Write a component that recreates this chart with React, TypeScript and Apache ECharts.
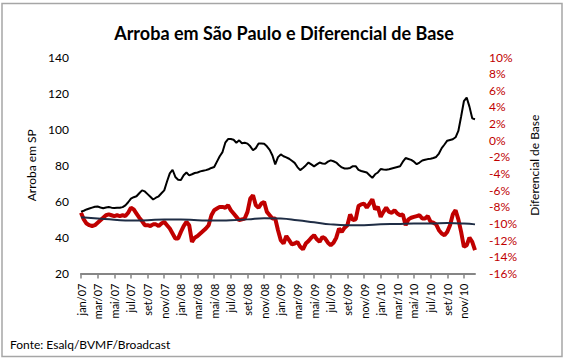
import React, { useEffect, useRef } from "react";
import * as echarts from "echarts";

const TITLE = "Arroba em São Paulo e Diferencial de Base";
const SOURCE = "Fonte: Esalq/BVMF/Broadcast";
const LEFT_NAME = "Arroba em SP";
const RIGHT_NAME = "Diferencial de Base";

const MONTHS = ["jan", "fev", "mar", "abr", "mai", "jun", "jul", "ago", "set", "out", "nov", "dez"];
const YEARS = ["07", "08", "09", "10"];
const DAYS = ["01", "11", "21"];

// Arroba em SP (R$), three readings per month
const ARROBA_2007 = [
  54.3, 54.8, 55.5, 56, 56.5, 57, 57.1, 56.6, 56.2, 56.6, 56.9, 56.5,
  56.3, 56.5, 56.4, 56.8, 57.8, 59.5, 61.5, 62.3, 62.8, 64.5, 66.1, 65.5,
  64, 62.5, 61, 62, 62.8, 64.5, 66.1, 71, 75.5, 77.5, 73.5, 72,
];
const ARROBA_2008 = [
  71.8, 74.5, 76, 74.4, 75, 75.7, 76, 76.6, 77, 77.3, 77.8, 78.5,
  79, 82, 85, 87.3, 92.5, 94.5, 94.5, 94.1, 92.5, 93.8, 92.2, 92.5,
  92, 90.5, 88.3, 89.5, 92, 92, 91.9, 90.5, 88.5, 85.4, 80.5, 84.5,
];
const ARROBA_2009 = [
  86, 85, 84.4, 83.6, 82.5, 81.3, 79, 77.3, 78.5, 79.9, 81.5, 80.5,
  79.4, 80.5, 81.5, 81, 80.8, 82, 82.7, 82.2, 81.5, 80, 78.8, 78.2,
  78.2, 78.5, 79.5, 79.5, 77.4, 76.8, 76.4, 76, 74.5, 73, 75, 76,
];
const ARROBA_2010 = [
  77.9, 77.6, 77.5, 77.8, 78.2, 78.6, 79, 79.4, 82, 84, 83.5, 83,
  82, 80.6, 81.5, 82.6, 83, 83.4, 83.6, 84, 84.6, 86.5, 89.5, 91.5,
  93.6, 94, 94.4, 95.5, 99, 107, 115.5, 117.5, 112.5, 106, 105.5,
];

// Diferencial de Base (%)
const BASE_2007 = [
  -8.7, -9.5, -10.0, -10.2, -10.3, -10.2, -9.9, -9.6, -9.3, -9.0, -8.9, -9.0,
  -9.1, -9.0, -9.1, -9.0, -9.1, -8.7, -8.1, -8.3, -8.8, -9.3, -9.7, -10.2,
  -10.2, -10.3, -10.1, -10.1, -10.3, -10.0, -9.8, -10.2, -10.6, -11.2, -11.8, -11.8,
];
const BASE_2008 = [
  -11.0, -10.3, -9.8, -10.2, -12.2, -11.7, -11.5, -11.2, -10.9, -10.6, -10.2, -9.0,
  -8.4, -8.2, -8.0, -8.0, -8.1, -7.8, -8.4, -8.8, -9.2, -9.6, -9.5, -9.4,
  -8.6, -7.0, -6.6, -7.8, -8.1, -7.6, -7.4, -8.6, -9.0, -9.4, -9.4, -10.8,
];
const BASE_2009 = [
  -12.0, -12.4, -11.5, -12.0, -12.5, -12.4, -12.2, -12.8, -13.1, -12.4, -12.1, -11.7,
  -11.4, -11.9, -12.2, -11.6, -11.8, -12.3, -12.6, -12.3, -11.7, -10.6, -11.0, -10.5,
  -10.2, -8.9, -9.6, -9.5, -7.9, -7.7, -7.6, -8.1, -7.6, -7.1, -8.3, -8.0,
];
const BASE_2010 = [
  -9.2, -8.6, -8.1, -8.6, -8.7, -8.4, -8.8, -9.0, -8.9, -10.2, -9.5, -9.3,
  -9.2, -9.1, -9.0, -9.4, -9.4, -9.1, -9.8, -9.9, -10.1, -10.8, -11.2, -11.4,
  -11.0, -10.2, -8.9, -8.4, -9.5, -11.0, -12.8, -12.6, -11.7, -12.2, -13.2,
];

// Trend of the basis (%)
const TREND_DATES = [
  "01/jan/07", "01/mar/07", "01/mai/07", "01/jul/07", "01/set/07", "01/nov/07",
  "01/jan/08", "01/mar/08", "01/mai/08", "01/jul/08", "01/set/08", "01/nov/08",
  "01/jan/09", "01/mar/09", "01/mai/09", "01/jul/09", "01/set/09", "01/nov/09",
  "01/jan/10", "01/mar/10", "01/mai/10", "01/jul/10", "01/set/10", "01/nov/10",
  "11/dez/10",
];
const TREND_VALUES = [
  -9.25, -9.4, -9.55, -9.65, -9.6, -9.5, -9.5, -9.6, -9.65, -9.6, -9.5, -9.35,
  -9.4, -9.6, -9.85, -10.1, -10.2, -10.2, -10.1, -10.05, -10.0, -10.0, -9.95, -10.0,
  -10.1,
];

const ARROBA = [...ARROBA_2007, ...ARROBA_2008, ...ARROBA_2009, ...ARROBA_2010];
const BASE = [...BASE_2007, ...BASE_2008, ...BASE_2009, ...BASE_2010];

const CATEGORIES: string[] = [];
YEARS.forEach((y) => MONTHS.forEach((m) => DAYS.forEach((d) => CATEGORIES.push(`${d}/${m}/${y}`))));
const CATS = CATEGORIES.slice(0, ARROBA.length);

const FONT = "Lato";
const RED = "#c00000";

export default function App() {
  const ref = useRef<HTMLDivElement>(null);
  useEffect(() => {
    if (!ref.current) return;
    const chart = echarts.init(ref.current, undefined, { renderer: "svg" });
    chart.setOption({
      animation: false,
      backgroundColor: "#ffffff",
      textStyle: { fontFamily: FONT },
      title: {
        text: TITLE,
        left: "center",
        top: 19,
        textStyle: { fontFamily: FONT, fontWeight: "bold", fontSize: 18, color: "#000" },
      },
      graphic: [
        {
          type: "rect",
          shape: { x: 2, y: 3.5, width: 560, height: 353 },
          style: { fill: "none", stroke: "#a6a6a6", lineWidth: 1.5 },
          silent: true,
        },
        {
          type: "text",
          left: 10,
          top: 338,
          style: { text: SOURCE, fontFamily: FONT, fontSize: 12, fill: "#000" },
        },
      ],
      grid: { left: 81, right: 93, top: 57, bottom: 88.5, containLabel: false },
      xAxis: {
        type: "category",
        data: CATS,
        boundaryGap: false,
        axisLine: { onZero: false, lineStyle: { color: "#868686", width: 2 } },
        axisTick: { interval: 5, length: 5, lineStyle: { color: "#868686", width: 1.5 } },
        axisLabel: {
          interval: 5,
          rotate: 90,
          margin: 10,
          fontFamily: FONT,
          fontSize: 11,
          color: "#000",
          formatter: (v: string) => v.slice(3),
        },
        splitLine: { show: false },
      },
      yAxis: [
        {
          type: "value",
          min: 20,
          max: 140,
          interval: 20,
          position: "left",
          name: LEFT_NAME,
          nameLocation: "middle",
          nameGap: 43,
          nameRotate: 90,
          nameTextStyle: { fontFamily: FONT, fontSize: 12, color: "#000" },
          axisLine: { show: false },
          axisTick: { show: false },
          splitLine: { show: false },
          axisLabel: { fontFamily: FONT, fontSize: 12, color: "#000", margin: 12 },
        },
        {
          type: "value",
          min: -16,
          max: 10,
          interval: 2,
          position: "right",
          name: RIGHT_NAME,
          nameLocation: "middle",
          nameGap: 53,
          nameRotate: 90,
          nameTextStyle: { fontFamily: FONT, fontSize: 12, color: "#000" },
          axisLine: { show: false },
          axisTick: { show: false },
          splitLine: { show: false },
          axisLabel: {
            fontFamily: FONT,
            fontSize: 12,
            color: RED,
            margin: 14,
            formatter: (v: number) => `${v}%`,
          },
        },
      ],
      series: [
        {
          name: "Diferencial de Base",
          type: "line",
          yAxisIndex: 1,
          data: BASE,
          showSymbol: false,
          lineStyle: { color: RED, width: 4 },
          z: 2,
        },
        {
          name: "Tendência",
          type: "line",
          yAxisIndex: 1,
          data: TREND_DATES.map((d, i) => [d, TREND_VALUES[i]]),
          showSymbol: false,
          smooth: true,
          lineStyle: { color: "#1f2d45", width: 2 },
          z: 3,
        },
        {
          name: "Arroba em SP",
          type: "line",
          yAxisIndex: 0,
          data: ARROBA,
          showSymbol: false,
          lineStyle: { color: "#000", width: 2 },
          z: 4,
        },
      ],
    });
    return () => chart.dispose();
  }, []);
  return (
    <div
      ref={ref}
      style={{ position: "absolute", left: 0, top: 0, width: 568, height: 362 }}
    />
  );
}
